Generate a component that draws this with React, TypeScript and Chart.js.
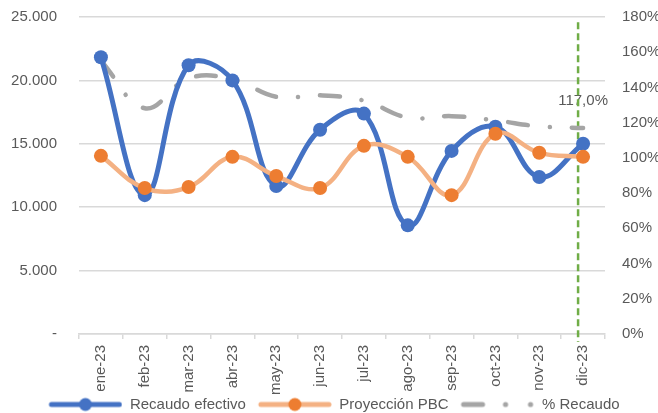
import React, { useEffect, useRef } from 'react';
import { Chart, registerables } from 'chart.js';

Chart.register(...registerables);

const months = ['ene-23', 'feb-23', 'mar-23', 'abr-23', 'may-23', 'jun-23', 'jul-23', 'ago-23', 'sep-23', 'oct-23', 'nov-23', 'dic-23'];
const recaudoEfectivo = [21825, 10950, 21190, 20000, 11670, 16110, 17380, 8570, 14440, 16350, 12380, 15000];
const proyeccionPBC = [14050, 11510, 11590, 13970, 12460, 11510, 14840, 13970, 10950, 15790, 14290, 13970];
const pctRecaudo = [155.2, 128.2, 145.2, 144.7, 134.7, 135.5, 132.5, 122.9, 123.7, 121.3, 117.9, 117.0];
const leftTickLabels = ['-', '5.000', '10.000', '15.000', '20.000', '25.000'];
const rightTickLabels = ['0%', '20%', '40%', '60%', '80%', '100%', '120%', '140%', '160%', '180%'];
const seriesNames = ['Recaudo efectivo', 'Proyección PBC', '% Recaudo'];
const lastPointLabel = '117,0%';
const markerMonthIndex = 11;
const markerTopPct = 177;

const BLUE = '#4472C4';
const ORANGE_LINE = '#F4B183';
const ORANGE_MARK = '#ED7D31';
const GRAY = '#A5A5A5';
const GREEN = '#70AD47';
const TEXT = '#595959';
const GRID = '#d9d9d9';
const FONT = "'Liberation Sans', Arial, sans-serif";
const ICON_LEAD = 10;

function legendIcon(kind: 'blue' | 'orange' | 'gray'): HTMLCanvasElement {
  const c = document.createElement('canvas');
  c.width = 74 + ICON_LEAD;
  c.height = 16;
  const g = c.getContext('2d')!;
  g.translate(ICON_LEAD, 0);
  g.lineCap = 'round';
  if (kind === 'gray') {
    g.strokeStyle = GRAY;
    g.lineWidth = 5;
    g.beginPath();
    g.moveTo(3, 8);
    g.lineTo(22, 8);
    g.stroke();
    g.fillStyle = GRAY;
    g.beginPath();
    g.arc(45, 8, 2.6, 0, Math.PI * 2);
    g.fill();
    g.beginPath();
    g.arc(70, 8, 2.6, 0, Math.PI * 2);
    g.fill();
  } else {
    g.strokeStyle = kind === 'blue' ? BLUE : ORANGE_LINE;
    g.lineWidth = 5;
    g.beginPath();
    g.moveTo(3, 8);
    g.lineTo(71, 8);
    g.stroke();
    g.fillStyle = kind === 'blue' ? BLUE : ORANGE_MARK;
    g.beginPath();
    g.arc(37, 8, 6.5, 0, Math.PI * 2);
    g.fill();
  }
  return c;
}

const overlayPlugin = {
  id: 'overlayPlugin',
  beforeDatasetsDraw(chart: any) {
    const { ctx, scales } = chart;
    const x = scales.x.getPixelForValue(markerMonthIndex) - 5;
    const yTop = scales.y1.getPixelForValue(markerTopPct);
    const yBottom = scales.y.getPixelForValue(0) + 8;
    const meta = chart.getDatasetMeta(2);
    const pt = meta.data[pctRecaudo.length - 1];
    ctx.save();
    ctx.font = `15px ${FONT}`;
    ctx.fillStyle = TEXT;
    ctx.textAlign = 'center';
    ctx.textBaseline = 'middle';
    ctx.fillText(lastPointLabel, pt.x, pt.y - 27);
    ctx.strokeStyle = GREEN;
    ctx.lineWidth = 2.5;
    ctx.setLineDash([7, 4]);
    ctx.beginPath();
    ctx.moveTo(x, yTop);
    ctx.lineTo(x, yBottom);
    ctx.stroke();
    ctx.restore();
  },
};

export default function App() {
  const ref = useRef<HTMLCanvasElement | null>(null);

  useEffect(() => {
    if (!ref.current) return;
    const icons = [legendIcon('blue'), legendIcon('orange'), legendIcon('gray')];
    const chart = new Chart(ref.current, {
      type: 'line',
      data: {
        labels: months,
        datasets: [
          {
            label: seriesNames[0],
            data: recaudoEfectivo,
            yAxisID: 'y',
            borderColor: BLUE,
            backgroundColor: BLUE,
            borderWidth: 5,
            pointRadius: 7,
            pointBackgroundColor: BLUE,
            pointBorderWidth: 0,
            tension: 0.4,
            order: 1,
          },
          {
            label: seriesNames[1],
            data: proyeccionPBC,
            yAxisID: 'y',
            borderColor: ORANGE_LINE,
            backgroundColor: ORANGE_MARK,
            borderWidth: 4.5,
            pointRadius: 7,
            pointBackgroundColor: ORANGE_MARK,
            pointBorderWidth: 0,
            tension: 0.4,
            order: 0,
          },
          {
            label: seriesNames[2],
            data: pctRecaudo,
            yAxisID: 'y1',
            borderColor: GRAY,
            backgroundColor: GRAY,
            borderWidth: 4.5,
            borderDash: [20, 22, 0.1, 22],
            borderCapStyle: 'round',
            pointRadius: 0,
            tension: 0.4,
            order: 2,
          },
        ],
      },
      options: {
        animation: false,
        responsive: false,
        events: [],
        layout: { padding: { top: 17, right: 0, bottom: -9, left: 0 } },
        font: { family: FONT, size: 15 },
        plugins: {
          tooltip: { enabled: false },
          legend: {
            position: 'bottom',
            labels: {
              usePointStyle: true,
              pointStyleWidth: 74 + ICON_LEAD,
              padding: 2,
              color: TEXT,
              font: { family: FONT, size: 15 },
              generateLabels: () =>
                seriesNames.map((name, i) => ({
                  text: name,
                  pointStyle: icons[i] as any,
                  fillStyle: 'transparent',
                  strokeStyle: 'transparent',
                  lineWidth: 0,
                  fontColor: TEXT,
                  hidden: false,
                  datasetIndex: i,
                })),
            },
          },
        },
        scales: {
          x: {
            offset: true,
            grid: {
              offset: true,
              drawOnChartArea: false,
              drawTicks: true,
              tickLength: 5,
              color: GRID,
              lineWidth: 1.5,
            },
            border: { display: true, color: GRID, width: 1.5 },
            ticks: {
              autoSkip: false,
              minRotation: 90,
              maxRotation: 90,
              padding: 6,
              color: TEXT,
              font: { family: FONT, size: 15 },
            },
            afterFit: (s: any) => {
              s.height = 61;
            },
          },
          y: {
            position: 'left',
            min: 0,
            max: 25000,
            grid: { color: GRID, lineWidth: 1.5, drawTicks: true, tickLength: 22, tickColor: 'rgba(0,0,0,0)' },
            border: { display: false },
            ticks: {
              stepSize: 5000,
              padding: 0,
              color: TEXT,
              font: { family: FONT, size: 15 },
              callback: (_v: any, i: number) => leftTickLabels[i],
            },
            afterFit: (s: any) => {
              s.width = 79;
            },
          },
          y1: {
            position: 'right',
            min: 0,
            max: 180,
            grid: { display: false, drawTicks: true, tickLength: 17 },
            border: { display: false },
            ticks: {
              stepSize: 20,
              padding: 0,
              color: TEXT,
              font: { family: FONT, size: 15 },
              callback: (_v: any, i: number) => rightTickLabels[i],
            },
            afterFit: (s: any) => {
              s.width = 53;
            },
          },
        },
      },
      plugins: [overlayPlugin],
    });
    return () => chart.destroy();
  }, []);

  return (
    <div style={{ position: 'absolute', left: 0, top: 0, width: 658, height: 413, background: '#fff' }}>
      <canvas ref={ref} width={658} height={413} />
    </div>
  );
}
